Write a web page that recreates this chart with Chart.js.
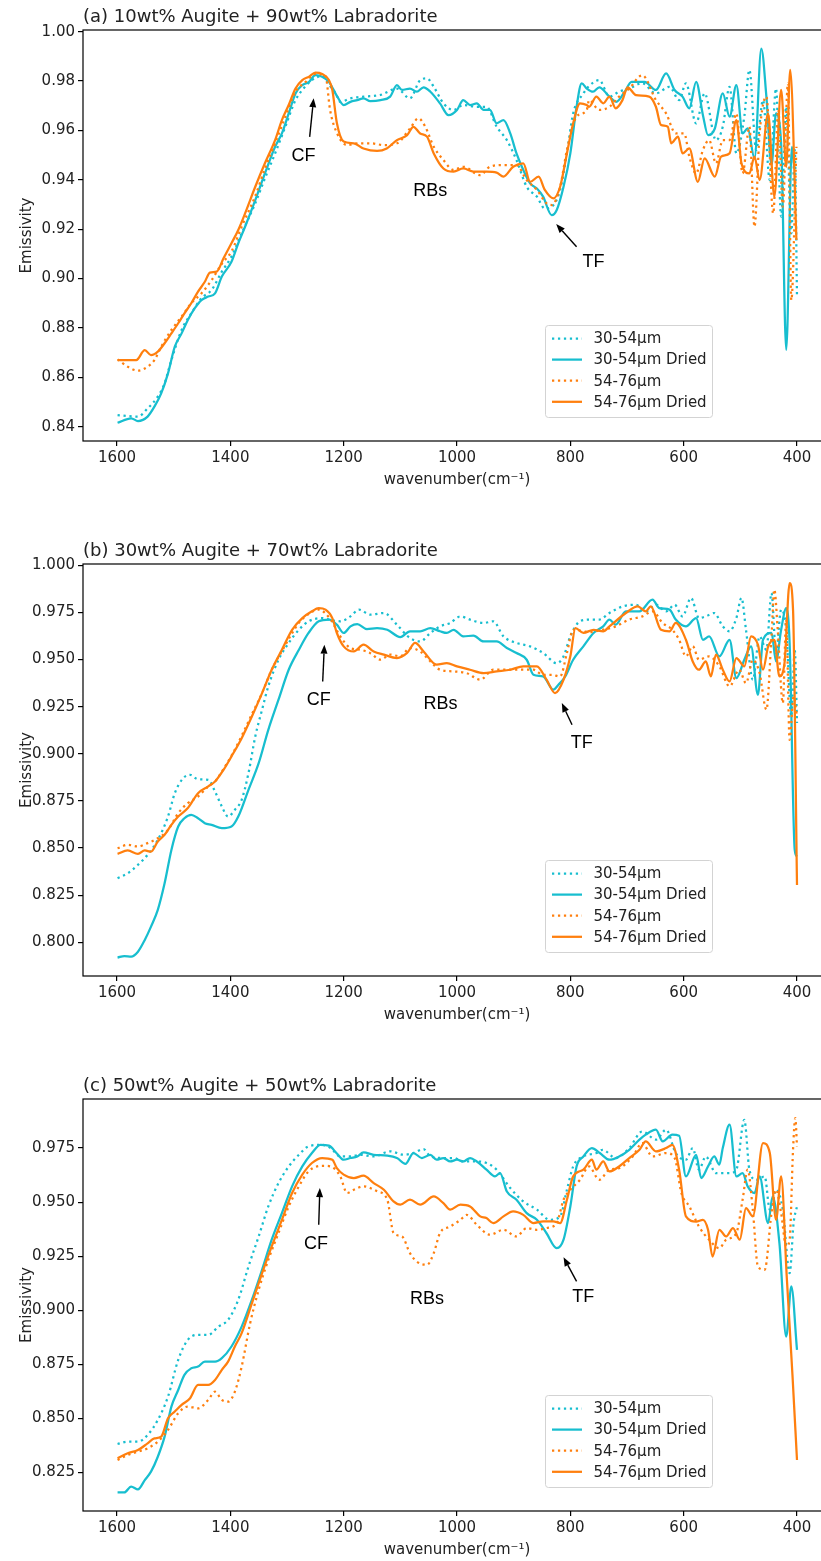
<!DOCTYPE html>
<html>
<head>
<meta charset="utf-8">
<title>Emissivity spectra</title>
<script src="https://cdn.jsdelivr.net/npm/chart.js@4.4.1/dist/chart.umd.min.js"></script>
<style>
  html, body { margin: 0; padding: 0; background: #fff; }
  body { width: 821px; height: 1561px; overflow: hidden; position: relative; }
  .panel { position: absolute; left: 0; }
  .panel canvas { display: block; }
</style>
</head>
<body>
<div class="panel" style="top:0px"><canvas id="chartA" width="835" height="500"></canvas></div>
<div class="panel" style="top:530px"><canvas id="chartB" width="835" height="500"></canvas></div>
<div class="panel" style="top:1060px"><canvas id="chartC" width="835" height="501"></canvas></div>
<script>
// ---- axis ticks and labels ----
const xTicks = [1600, 1400, 1200, 1000, 800, 600, 400];
const yTicksA = [0.84, 0.86, 0.88, 0.90, 0.92, 0.94, 0.96, 0.98, 1.00];
const yTicksB = [0.800, 0.825, 0.850, 0.875, 0.900, 0.925, 0.950, 0.975, 1.000];
const yTicksC = [0.825, 0.850, 0.875, 0.900, 0.925, 0.950, 0.975];
const seriesLabels = ['30-54μm', '30-54μm Dried', '54-76μm', '54-76μm Dried'];
const titles = [
  '(a) 10wt% Augite + 90wt% Labradorite',
  '(b) 30wt% Augite + 70wt% Labradorite',
  '(c) 50wt% Augite + 50wt% Labradorite'
];

// ---- spectra: [wavenumber (cm-1), emissivity] ----
// (a) 10wt% augite
const a30 = [[1599,.8447],[1581,.8443],[1563,.8441],[1546,.8474],[1528,.8522],[1516,.8576],[1504,.867],[1486,.8792],[1469,.8859],[1451,.892],[1433,.8954],[1415,.9028],[1398,.9089],[1380,.9183],[1356,.9305],[1339,.9406],[1321,.9507],[1303,.9615],[1285,.9723],[1273,.9764],[1256,.9804],[1238,.982],[1224,.978],[1214,.975],[1206,.9716],[1188,.973],[1165,.9737],[1135,.9744],[1106,.977],[1083,.973],[1065,.9804],[1053,.9811],[1041,.9777],[1024,.971],[1006,.9683],[989,.9703],[965,.9696],[948,.9696],[930,.9615],[912,.9561],[895,.948],[877,.9372],[859,.9332],[845,.9284],[833,.9291],[818,.9359],[806,.9507],[795,.9669],[777,.975],[767,.978],[749,.9804],[731,.9737],[714,.9757],[696,.977],[673,.9791],[649,.975],[625,.9777],[608,.9723],[596,.9791],[578,.9629],[563,.975],[543,.9561],[531,.9615],[519,.9777],[507,.9507],[493,.9656],[484,.9845],[472,.9521],[460,.9723],[448,.9399],[437,.977],[428,.9251],[419,.9696],[410,.9183],[404,.9521],[400,.8927]];
const a30Dried = [[1599,.8416],[1575,.8434],[1563,.8423],[1546,.8441],[1534,.8481],[1522,.8535],[1510,.8616],[1498,.8724],[1486,.8778],[1475,.8832],[1463,.8879],[1451,.8913],[1439,.8927],[1427,.894],[1415,.9008],[1398,.9068],[1386,.9143],[1374,.921],[1356,.9318],[1339,.9426],[1321,.9534],[1309,.9588],[1297,.9669],[1285,.975],[1273,.9784],[1261,.9797],[1250,.9824],[1238,.9818],[1226,.9797],[1212,.974],[1200,.9703],[1188,.9716],[1176,.9723],[1165,.973],[1153,.9719],[1135,.9723],[1118,.9737],[1106,.9784],[1097,.9764],[1083,.977],[1071,.9757],[1059,.9775],[1047,.9757],[1030,.971],[1015,.9662],[1000,.9683],[989,.9723],[977,.9703],[965,.971],[953,.9683],[942,.9683],[930,.9629],[918,.9642],[906,.9588],[895,.9507],[883,.944],[871,.9386],[859,.9365],[848,.9332],[833,.9257],[824,.9278],[812,.9372],[800,.9507],[789,.9696],[780,.9791],[771,.977],[760,.9757],[749,.9775],[731,.9737],[719,.9716],[704,.9757],[692,.9797],[669,.9797],[649,.9764],[631,.9831],[616,.9764],[602,.9737],[590,.969],[578,.9797],[566,.9662],[557,.9581],[545,.9608],[531,.975],[519,.9656],[507,.9784],[496,.9588],[487,.9608],[475,.9487],[463,.9932],[454,.9737],[445,.946],[437,.9669],[428,.9548],[419,.8711],[409,.9534],[405,.945]];
const a54 = [[1599,.8673],[1581,.8643],[1563,.8627],[1546,.8643],[1534,.867],[1522,.8724],[1504,.8792],[1486,.8846],[1469,.89],[1451,.894],[1433,.8994],[1415,.906],[1398,.911],[1380,.921],[1356,.9335],[1339,.9445],[1321,.9548],[1303,.9655],[1285,.9757],[1267,.9797],[1250,.9829],[1232,.982],[1224,.9683],[1212,.959],[1194,.9541],[1176,.9548],[1153,.9548],[1129,.9541],[1106,.9548],[1083,.9608],[1068,.9649],[1056,.9615],[1041,.9534],[1024,.948],[1006,.944],[989,.9453],[959,.9419],[942,.9453],[918,.946],[895,.946],[877,.9399],[859,.9359],[842,.9305],[833,.9298],[818,.9372],[806,.9521],[789,.9656],[771,.9683],[767,.9723],[749,.9683],[731,.9696],[714,.9737],[696,.977],[673,.9824],[649,.9723],[631,.9669],[614,.9588],[599,.9588],[590,.9494],[578,.9426],[566,.9521],[555,.9561],[543,.9467],[531,.9561],[519,.9561],[507,.9669],[496,.9426],[484,.9615],[475,.921],[466,.9588],[454,.9737],[442,.9264],[433,.9683],[425,.9291],[416,.9791],[410,.8913],[401,.9534]];
const a54Dried = [[1599,.867],[1566,.867],[1551,.871],[1540,.869],[1528,.8704],[1516,.8738],[1504,.8778],[1492,.8819],[1481,.8859],[1469,.89],[1457,.8947],[1445,.8987],[1436,.9024],[1424,.9028],[1412,.9082],[1398,.9143],[1386,.9197],[1374,.9264],[1356,.9372],[1339,.9467],[1321,.9561],[1309,.9642],[1297,.9703],[1285,.977],[1273,.9804],[1261,.9818],[1250,.9834],[1238,.9829],[1226,.9804],[1220,.9764],[1212,.963],[1200,.9555],[1182,.9548],[1165,.9527],[1141,.9517],[1124,.9527],[1106,.9561],[1088,.9581],[1077,.9615],[1065,.9588],[1053,.9575],[1041,.9507],[1024,.9446],[1006,.9433],[989,.9446],[971,.9433],[948,.9433],[930,.9429],[918,.9413],[901,.9453],[883,.9467],[871,.9392],[856,.9413],[845,.9359],[830,.9325],[818,.9372],[806,.9507],[795,.9629],[783,.971],[771,.9703],[767,.9696],[754,.9737],[742,.971],[731,.9737],[720,.969],[708,.9723],[699,.9775],[684,.9743],[661,.9737],[649,.9696],[640,.9622],[628,.9615],[622,.9548],[610,.9575],[602,.9507],[590,.9527],[575,.9392],[563,.9487],[545,.9413],[534,.9494],[519,.9507],[507,.9642],[498,.9467],[484,.9426],[475,.9494],[466,.9399],[451,.9669],[440,.9332],[428,.9764],[419,.9453],[412,.9845],[401,.9156]];

// (b) 30wt% augite
const b30 = [[1599,.834],[1581,.8366],[1563,.8411],[1546,.8464],[1528,.8543],[1510,.8667],[1498,.8791],[1483,.8871],[1471,.8888],[1457,.8865],[1439,.8862],[1427,.88],[1415,.872],[1404,.8667],[1392,.8703],[1380,.8756],[1368,.8897],[1356,.9092],[1344,.9234],[1333,.9358],[1315,.9499],[1297,.9588],[1279,.9658],[1262,.9703],[1238,.972],[1223,.971],[1206,.9703],[1188,.9729],[1173,.9765],[1153,.9738],[1129,.9747],[1106,.9685],[1083,.9614],[1065,.9596],[1047,.9641],[1030,.9676],[1012,.9694],[994,.9729],[977,.9712],[953,.9694],[936,.9703],[918,.9623],[895,.9588],[871,.957],[848,.9535],[824,.9481],[812,.9517],[800,.9623],[783,.9703],[765,.9712],[749,.9712],[731,.9747],[708,.9782],[684,.9791],[667,.9756],[649,.9791],[631,.9756],[616,.9791],[602,.9729],[587,.9827],[573,.972],[561,.9729],[546,.9747],[531,.9676],[519,.965],[507,.972],[498,.9827],[490,.9658],[478,.9393],[466,.9623],[454,.9552],[445,.9853],[437,.9535],[428,.9765],[419,.9658],[410,.9198],[404,.9552],[400,.9163]];
const b30Dried = [[1599,.7919],[1587,.7927],[1575,.7924],[1563,.795],[1551,.8012],[1540,.8083],[1528,.8172],[1516,.8313],[1504,.849],[1492,.8614],[1481,.8658],[1469,.8676],[1457,.8658],[1445,.8632],[1433,.8623],[1415,.8605],[1398,.8614],[1386,.8667],[1368,.8809],[1350,.895],[1333,.9127],[1315,.9287],[1297,.9446],[1279,.9552],[1262,.9641],[1244,.9703],[1226,.9712],[1212,.9685],[1200,.9641],[1188,.9676],[1176,.9688],[1159,.9662],[1141,.9667],[1123,.9658],[1100,.9619],[1083,.965],[1065,.965],[1047,.9667],[1030,.965],[1018,.9641],[1006,.9658],[989,.9623],[971,.9627],[953,.9596],[930,.9596],[912,.9561],[895,.9535],[877,.9499],[865,.9419],[848,.941],[830,.934],[821,.9366],[809,.941],[795,.9499],[777,.957],[759,.9641],[742,.9676],[731,.9712],[720,.9685],[702,.9756],[678,.9756],[655,.9818],[643,.9773],[625,.9765],[614,.9712],[596,.9676],[578,.972],[566,.9605],[555,.9623],[537,.9517],[519,.9605],[507,.9402],[493,.9499],[481,.957],[469,.9313],[460,.9605],[445,.9641],[437,.949],[428,.9658],[419,.9773],[413,.9588],[404,.849],[400,.8455]];
const b54 = [[1599,.8499],[1581,.8517],[1563,.8508],[1546,.8526],[1528,.8552],[1510,.8596],[1492,.8685],[1475,.8738],[1457,.8773],[1439,.8827],[1427,.8853],[1412,.892],[1398,.899],[1380,.9095],[1362,.921],[1344,.9322],[1327,.9446],[1309,.9545],[1291,.964],[1279,.9695],[1262,.9741],[1244,.9765],[1223,.9712],[1206,.9623],[1188,.9561],[1171,.9552],[1153,.9534],[1135,.9499],[1118,.9526],[1100,.9517],[1083,.9561],[1065,.9543],[1047,.949],[1030,.9446],[1006,.9437],[983,.9428],[959,.9393],[936,.9446],[912,.9446],[889,.9446],[865,.9446],[848,.9419],[833,.9419],[818,.941],[806,.9535],[795,.9658],[777,.965],[767,.9645],[743,.9658],[720,.9676],[696,.9712],[673,.9729],[655,.9756],[637,.9694],[620,.9658],[608,.9605],[596,.9517],[584,.9571],[573,.9499],[555,.9517],[537,.9464],[519,.9358],[502,.9446],[490,.9375],[478,.9499],[466,.9428],[454,.9234],[445,.9623],[440,.9871],[434,.9658],[425,.9269],[419,.9712],[413,.9074],[406,.9304],[400,.9198]];
const b54Dried = [[1599,.8469],[1581,.8487],[1563,.8469],[1551,.8487],[1540,.8481],[1528,.8535],[1516,.857],[1504,.8623],[1492,.8667],[1475,.8712],[1457,.8791],[1439,.8827],[1427,.8853],[1412,.8915],[1398,.8986],[1380,.9083],[1362,.9198],[1344,.9322],[1327,.9446],[1309,.9552],[1291,.9658],[1273,.972],[1256,.9756],[1244,.9773],[1232,.9765],[1220,.972],[1212,.9641],[1200,.957],[1182,.9543],[1165,.9579],[1147,.9543],[1129,.9526],[1106,.9508],[1088,.9535],[1074,.9588],[1059,.9543],[1036,.9473],[1018,.9481],[1000,.9464],[977,.9446],[953,.9428],[930,.9437],[906,.9446],[883,.9464],[859,.9464],[842,.9393],[827,.9322],[812,.9393],[800,.9517],[791,.9667],[777,.9641],[759,.9658],[742,.965],[731,.9676],[702,.9747],[681,.9782],[667,.9756],[658,.9782],[640,.9658],[625,.965],[614,.9694],[596,.9605],[584,.949],[573,.9446],[561,.949],[552,.9411],[543,.9526],[531,.9446],[519,.9384],[507,.9508],[493,.9464],[481,.9623],[469,.9579],[460,.9446],[451,.9569],[440,.9605],[431,.9411],[422,.9482],[413,.9906],[407,.9765],[400,.8304]];

// (c) 50wt% augite
const c30 = [[1599,.8381],[1581,.8392],[1563,.8392],[1546,.8423],[1528,.8492],[1510,.86],[1492,.877],[1475,.8863],[1457,.8886],[1439,.8886],[1421,.8924],[1404,.8955],[1386,.9048],[1368,.9202],[1350,.9341],[1333,.948],[1315,.9588],[1297,.9665],[1279,.9719],[1262,.9758],[1238,.9765],[1223,.975],[1206,.9711],[1188,.9711],[1171,.9719],[1147,.9711],[1118,.9735],[1094,.9719],[1077,.9727],[1059,.9745],[1047,.9711],[1024,.9704],[1006,.9704],[989,.9688],[965,.9688],[948,.9681],[930,.965],[906,.9565],[883,.9503],[859,.9465],[836,.9418],[818,.9434],[806,.9557],[795,.9665],[777,.9711],[754,.9727],[743,.9742],[720,.9704],[696,.975],[673,.9827],[649,.9789],[631,.9835],[614,.9727],[596,.9696],[584,.975],[573,.965],[561,.9711],[543,.9634],[519,.9634],[507,.965],[493,.9881],[484,.965],[472,.9603],[457,.9619],[448,.9465],[437,.9557],[425,.9465],[413,.9171],[406,.9403],[400,.948]];
const c30Dried = [[1599,.8157],[1587,.8157],[1575,.8184],[1563,.8171],[1551,.8214],[1540,.8253],[1528,.8322],[1516,.8415],[1504,.8554],[1492,.8631],[1481,.8701],[1469,.8731],[1457,.8739],[1445,.8762],[1427,.8762],[1415,.8778],[1398,.8832],[1380,.8924],[1362,.9048],[1344,.9187],[1327,.9326],[1309,.9449],[1291,.9573],[1273,.9665],[1256,.9727],[1241,.9765],[1226,.9761],[1212,.9725],[1200,.9696],[1188,.9704],[1176,.9711],[1165,.973],[1147,.9719],[1123,.9715],[1106,.9704],[1091,.9677],[1077,.9727],[1062,.9704],[1047,.9719],[1036,.9696],[1024,.9704],[1012,.9688],[1000,.9696],[989,.9688],[977,.9704],[965,.9688],[948,.965],[933,.9619],[924,.9634],[912,.9549],[895,.9511],[877,.9449],[859,.9418],[842,.9356],[824,.9287],[812,.9326],[800,.948],[789,.9665],[777,.9711],[762,.975],[748,.9727],[731,.9696],[714,.9711],[696,.9742],[678,.9789],[667,.9812],[649,.9835],[637,.9781],[620,.9812],[608,.9807],[596,.9619],[578,.9719],[569,.9611],[557,.9665],[546,.9711],[537,.9673],[531,.975],[519,.9858],[507,.9619],[496,.9634],[487,.9573],[475,.9542],[466,.9619],[451,.9403],[443,.9526],[431,.931],[419,.8878],[410,.911],[400,.8816]];
const c54 = [[1599,.8307],[1581,.833],[1563,.8346],[1546,.8361],[1528,.8392],[1510,.8446],[1492,.8523],[1475,.8554],[1457,.8546],[1439,.8585],[1427,.8623],[1415,.8585],[1404,.8577],[1392,.8623],[1380,.8739],[1365,.894],[1350,.9094],[1333,.9233],[1315,.9357],[1297,.948],[1279,.9573],[1262,.9642],[1238,.9668],[1223,.9665],[1206,.9619],[1194,.9542],[1182,.9557],[1165,.9573],[1141,.955],[1123,.9511],[1112,.9357],[1097,.9341],[1083,.9264],[1071,.9225],[1053,.921],[1041,.9264],[1030,.9357],[1012,.9387],[994,.9418],[983,.9441],[965,.9395],[942,.9349],[918,.9372],[895,.9341],[877,.938],[859,.9372],[842,.938],[824,.9403],[812,.9511],[800,.9557],[783,.9603],[767,.9665],[749,.9603],[731,.965],[714,.9657],[690,.9711],[673,.9773],[655,.9711],[631,.9727],[616,.9704],[604,.9542],[590,.948],[573,.9387],[555,.9326],[537,.9287],[525,.9326],[507,.9357],[496,.9511],[487,.965],[478,.9465],[469,.9202],[457,.9187],[445,.9449],[437,.9557],[428,.9449],[419,.9295],[413,.9326],[407,.9742],[403,.9889],[400,.9758]];
const c54Dried = [[1599,.8315],[1581,.8338],[1563,.8353],[1546,.8384],[1534,.8407],[1522,.8415],[1510,.85],[1498,.8531],[1486,.8562],[1471,.8593],[1457,.8654],[1439,.8654],[1427,.8677],[1415,.8724],[1404,.8762],[1392,.8832],[1380,.8894],[1362,.9032],[1344,.9171],[1327,.9295],[1309,.9418],[1291,.9542],[1273,.9627],[1256,.9681],[1238,.9704],[1220,.9696],[1212,.9657],[1200,.9627],[1182,.9611],[1165,.9622],[1147,.9588],[1129,.9557],[1112,.9503],[1100,.9488],[1083,.9511],[1065,.9488],[1041,.9526],[1024,.9495],[1012,.9465],[994,.9488],[977,.948],[959,.9434],[948,.9426],[936,.9403],[918,.9434],[901,.9457],[883,.9441],[865,.9403],[848,.9411],[830,.9411],[818,.9403],[806,.9511],[795,.9619],[777,.965],[762,.9696],[754,.965],[742,.9688],[731,.9642],[714,.9665],[696,.9704],[678,.9742],[667,.9781],[649,.9735],[631,.975],[620,.9765],[608,.965],[596,.9434],[578,.941],[566,.9418],[557,.9372],[549,.9248],[537,.9372],[525,.9341],[513,.938],[501,.9326],[490,.9472],[478,.9434],[460,.9773],[448,.9727],[437,.9418],[428,.9619],[418,.915],[408,.87],[400,.8307]];

// ---- look ----
const CYAN = '#17becf';
const ORANGE = '#ff7f0e';
const DOTS = [2.25, 3.7];
const seriesColors = [CYAN, CYAN, ORANGE, ORANGE];
const seriesDotted = [true, false, true, false];

Chart.defaults.font.family = "'DejaVu Sans', sans-serif";
Chart.defaults.font.size = 15;
Chart.defaults.color = '#222';

// box around the axes, panel title, CF/RBs/TF callouts and the legend
const decorPlugin = {
  id: 'decor',
  afterDraw(chart, args, opts) {
    const { ctx, chartArea: ca, scales: { x, y } } = chart;
    ctx.save();
    ctx.strokeStyle = '#000';
    ctx.lineWidth = 1.2;
    ctx.strokeRect(ca.left, ca.top, ca.right - ca.left, ca.bottom - ca.top);

    ctx.fillStyle = '#222';
    ctx.font = "18px 'DejaVu Sans'";
    ctx.textAlign = 'left';
    ctx.textBaseline = 'alphabetic';
    ctx.fillText(opts.title, ca.left, ca.top - 8);

    ctx.fillStyle = '#000';
    ctx.strokeStyle = '#000';
    ctx.lineWidth = 1.4;
    ctx.font = "18px 'Liberation Sans', Arial, sans-serif";
    ctx.textAlign = 'center';
    ctx.textBaseline = 'middle';
    for (const n of opts.notes) {
      ctx.fillText(n.label, x.getPixelForValue(n.at[0]), y.getPixelForValue(n.at[1]));
      if (n.tail) {
        const x0 = x.getPixelForValue(n.tail[0]), y0 = y.getPixelForValue(n.tail[1]);
        const x1 = x.getPixelForValue(n.head[0]), y1 = y.getPixelForValue(n.head[1]);
        const a = Math.atan2(y1 - y0, x1 - x0), L = 9, W = 3.5;
        const bx = x1 - L * Math.cos(a), by = y1 - L * Math.sin(a);
        ctx.beginPath(); ctx.moveTo(x0, y0); ctx.lineTo(bx, by); ctx.stroke();
        ctx.beginPath();
        ctx.moveTo(x1, y1);
        ctx.lineTo(bx + W * Math.sin(a), by - W * Math.cos(a));
        ctx.lineTo(bx - W * Math.sin(a), by + W * Math.cos(a));
        ctx.closePath(); ctx.fill();
      }
    }

    // legend
    const bw = 167, bh = 92;
    const lx = ca.left + 462, ly = ca.bottom - 24 - bh;
    ctx.beginPath();
    ctx.roundRect(lx + 0.5, ly + 0.5, bw, bh, 3);
    ctx.fillStyle = 'rgba(255,255,255,0.85)';
    ctx.fill();
    ctx.strokeStyle = '#d3d3d3';
    ctx.lineWidth = 1;
    ctx.stroke();
    ctx.font = "15px 'DejaVu Sans'";
    ctx.textAlign = 'left';
    chart.data.datasets.forEach((ds, i) => {
      const ry = ly + 13.5 + i * 21.1;
      ctx.strokeStyle = ds.borderColor;
      ctx.lineWidth = 2.25;
      ctx.setLineDash(ds.borderDash || []);
      ctx.beginPath(); ctx.moveTo(lx + 7, ry); ctx.lineTo(lx + 37, ry); ctx.stroke();
      ctx.setLineDash([]);
      ctx.fillStyle = '#222';
      ctx.fillText(ds.label, lx + 48.5, ry + 1);
    });
    ctx.restore();
  }
};

function makeChart(p) {
  const datasets = p.series.map((pts, i) => ({
    label: seriesLabels[i],
    data: pts.map(([w, e]) => ({ x: w, y: e })),
    borderColor: seriesColors[i],
    borderWidth: 2.25,
    borderDash: seriesDotted[i] ? DOTS : [],
    borderCapStyle: 'butt',
    pointRadius: 0,
    fill: false,
    cubicInterpolationMode: 'monotone',
    order: 3 - i
  }));
  const tickGrid = { display: true, drawOnChartArea: false, drawTicks: true, tickLength: 5, color: '#000', lineWidth: 1.2 };
  return new Chart(document.getElementById(p.id), {
    type: 'line',
    data: { datasets },
    options: {
      responsive: false,
      animation: false,
      events: [],
      layout: { padding: { top: p.padTop, right: 4, bottom: p.padBottom, left: 0 } },
      plugins: {
        legend: { display: false },
        tooltip: { enabled: false },
        decor: { title: p.title, notes: p.notes }
      },
      scales: {
        x: {
          type: 'linear',
          reverse: true,
          min: 340,
          max: 1660,
          afterBuildTicks: s => { s.ticks = xTicks.map(v => ({ value: v })); },
          afterFit: s => { s.height = 50; },
          ticks: { callback: v => String(v), padding: 3, maxRotation: 0, autoSkip: false, font: { size: 15 } },
          grid: tickGrid,
          border: { display: false },
          title: { display: true, text: 'wavenumber(cm⁻¹)', font: { size: 15 }, padding: { top: 0, bottom: 2 } }
        },
        y: {
          type: 'linear',
          min: p.yMin,
          max: p.yMax,
          afterBuildTicks: s => { s.ticks = p.yTicks.map(v => ({ value: v })); },
          afterFit: s => { s.width = 83; },
          ticks: { callback: v => v.toFixed(p.digits), padding: 3, autoSkip: false, font: { size: 15 } },
          grid: tickGrid,
          border: { display: false },
          title: { display: true, text: 'Emissivity', font: { size: 15 }, padding: { top: 18, bottom: 0 } }
        }
      }
    },
    plugins: [decorPlugin]
  });
}

makeChart({
  id: 'chartA', title: titles[0], yMin: 0.8342, yMax: 1.0007, yTicks: yTicksA, digits: 2,
  padTop: 30, padBottom: 9,
  series: [a30, a30Dried, a54, a54Dried],
  notes: [
    { label: 'CF', at: [1271, 0.9496], tail: [1260, 0.9574], head: [1253, 0.9731] },
    { label: 'RBs', at: [1047, 0.9356] },
    { label: 'TF', at: [759, 0.9068], tail: [789, 0.9129], head: [825, 0.9221] }
  ]
});
makeChart({
  id: 'chartB', title: titles[1], yMin: 0.7821, yMax: 1.0007, yTicks: yTicksB, digits: 3,
  padTop: 34, padBottom: 4,
  series: [b30, b30Dried, b54, b54Dried],
  notes: [
    { label: 'CF', at: [1244, 0.9287], tail: [1237, 0.9384], head: [1234, 0.9579] },
    { label: 'RBs', at: [1029, 0.9265] },
    { label: 'TF', at: [780, 0.9057], tail: [797, 0.9154], head: [815, 0.9269] }
  ]
});
makeChart({
  id: 'chartC', title: titles[2], yMin: 0.8071, yMax: 0.9977, yTicks: yTicksC, digits: 3,
  padTop: 39, padBottom: 0,
  series: [c30, c30Dried, c54, c54Dried],
  notes: [
    { label: 'CF', at: [1249, 0.9307], tail: [1244, 0.9395], head: [1242, 0.9565] },
    { label: 'RBs', at: [1053, 0.9051] },
    { label: 'TF', at: [777, 0.9063], tail: [789, 0.9133], head: [812, 0.9245] }
  ]
});
</script>
</body>
</html>
